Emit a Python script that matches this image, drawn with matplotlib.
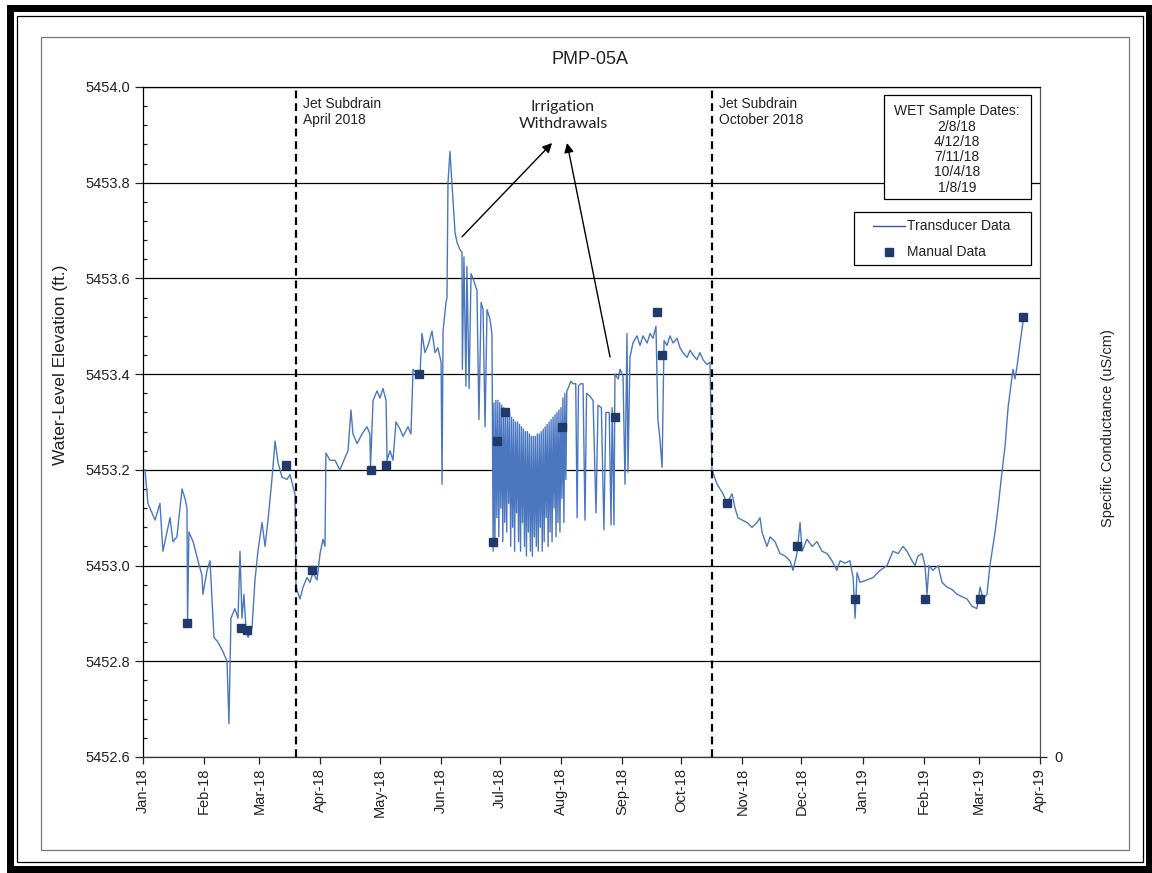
import matplotlib
matplotlib.use("Agg")
import matplotlib.pyplot as plt
import matplotlib.dates as mdates
from matplotlib.patches import Rectangle
from matplotlib.lines import Line2D
from matplotlib.ticker import MultipleLocator, FormatStrFormatter
import datetime as dt

plt.rcParams['font.family'] = ['Liberation Sans', 'DejaVu Sans']

BASE = dt.datetime(2018, 1, 1)

# ---------------- data (days since 1 Jan 2018, elevation ft) ----------------
trans_jan_jun = [
    (1.0, 5453.20), (2.5, 5453.13), (6.1, 5453.095), (8.6, 5453.13), (10.1, 5453.03),
    (13.7, 5453.10), (15.2, 5453.05), (17.2, 5453.06), (19.8, 5453.16), (21.3, 5453.14),
    (22.3, 5453.12), (22.6, 5452.88), (23.3, 5453.07), (25.4, 5453.05), (27.9, 5453.01),
    (29.9, 5452.98), (30.4, 5452.94), (32.5, 5452.99), (34.0, 5453.01), (35.0, 5452.93),
    (36.0, 5452.85), (38.0, 5452.84), (40.6, 5452.82), (42.6, 5452.80), (43.6, 5452.67),
    (44.6, 5452.89), (46.6, 5452.91), (48.2, 5452.89), (49.2, 5453.03), (50.2, 5452.89),
    (51.2, 5452.94), (52.2, 5452.87), (53.3, 5452.85), (55.3, 5452.87), (56.8, 5452.97),
    (58.3, 5453.03), (60.4, 5453.09), (61.9, 5453.04), (63.4, 5453.095), (65.4, 5453.18),
    (67.0, 5453.26), (68.5, 5453.215), (70.5, 5453.185), (73.0, 5453.18), (74.6, 5453.19),
    (76.1, 5453.165), (77.1, 5453.15), (77.6, 5452.955), (79.6, 5452.93), (81.2, 5452.955),
    (83.2, 5452.975), (84.7, 5452.965), (86.2, 5452.985), (88.3, 5452.97), (89.8, 5453.025),
    (91.3, 5453.055), (92.3, 5453.04), (92.8, 5453.235), (94.9, 5453.22), (97.4, 5453.22),
    (99.9, 5453.20), (102.4, 5453.225), (104.0, 5453.24), (105.5, 5453.325), (106.5, 5453.275),
    (108.6, 5453.255), (111.1, 5453.275), (113.6, 5453.29), (115.1, 5453.275), (115.4, 5453.205),
    (116.7, 5453.345), (118.7, 5453.365), (120.2, 5453.35), (121.7, 5453.37), (123.3, 5453.345),
    (123.8, 5453.22), (125.3, 5453.24), (126.8, 5453.22), (128.3, 5453.30), (130.4, 5453.285),
    (131.9, 5453.27), (134.4, 5453.29), (135.9, 5453.275), (137.0, 5453.41), (139.0, 5453.40),
    (140.5, 5453.40), (141.5, 5453.485), (143.0, 5453.445), (144.6, 5453.46), (146.6, 5453.49),
    (148.1, 5453.445), (149.6, 5453.455), (151.2, 5453.425), (151.7, 5453.17), (152.2, 5453.49),
    (153.7, 5453.55), (154.2, 5453.56), (154.7, 5453.80), (155.7, 5453.865), (156.7, 5453.80),
    (158.3, 5453.695), (159.3, 5453.675), (160.8, 5453.66), (161.8, 5453.655), (162.0, 5453.41),
    (162.8, 5453.645), (163.8, 5453.375), (164.3, 5453.625), (165.4, 5453.37), (166.4, 5453.61),
    (167.4, 5453.60), (169.4, 5453.575), (170.4, 5453.305), (171.5, 5453.55), (172.5, 5453.535),
    (173.5, 5453.29), (174.5, 5453.535), (176.0, 5453.515), (177.0, 5453.485), (177.6, 5453.03),
]

trans_irrigation = [
    (178.0, 5453.34), (178.5, 5453.04), (179.0, 5453.345), (179.5, 5453.10),
    (180.0, 5453.345), (180.5, 5453.06), (181.0, 5453.34), (181.5, 5453.12),
    (182.0, 5453.335), (182.5, 5453.05), (183.0, 5453.33), (183.5, 5453.09),
    (184.0, 5453.325), (184.5, 5453.07), (185.0, 5453.32), (185.5, 5453.13),
    (186.0, 5453.315), (186.5, 5453.04), (187.0, 5453.31), (187.5, 5453.08),
    (188.0, 5453.305), (188.5, 5453.03), (189.0, 5453.30), (189.5, 5453.11),
    (190.0, 5453.30), (190.5, 5453.05), (191.0, 5453.295), (191.5, 5453.03),
    (192.0, 5453.29), (192.5, 5453.09), (193.0, 5453.285), (193.5, 5453.04),
    (194.0, 5453.28), (194.5, 5453.02), (195.0, 5453.28), (195.5, 5453.07),
    (196.0, 5453.275), (196.5, 5453.03), (197.0, 5453.27), (197.5, 5453.02),
    (198.0, 5453.27), (198.5, 5453.06), (199.0, 5453.27), (199.5, 5453.04),
    (200.0, 5453.275), (200.5, 5453.03), (201.0, 5453.275), (201.5, 5453.08),
    (202.0, 5453.28), (202.5, 5453.03), (203.0, 5453.285), (203.5, 5453.05),
    (204.0, 5453.29), (204.5, 5453.10), (205.0, 5453.295), (205.5, 5453.04),
    (206.0, 5453.30), (206.5, 5453.07), (207.0, 5453.305), (207.5, 5453.05),
    (208.0, 5453.31), (208.5, 5453.12), (209.0, 5453.315), (209.5, 5453.06),
    (210.0, 5453.32), (210.5, 5453.09), (211.0, 5453.325), (211.5, 5453.07),
    (212.0, 5453.33), (212.5, 5453.14), (213.0, 5453.35), (213.5, 5453.09),
    (214.0, 5453.36), (214.5, 5453.18), (215.0, 5453.365), (215.6, 5453.37),
    (217.0, 5453.385), (218.1, 5453.38), (219.5, 5453.38), (220.2, 5453.10),
    (220.9, 5453.375), (222.0, 5453.38), (223.2, 5453.38), (224.2, 5453.095),
    (225.0, 5453.36), (226.5, 5453.355), (228.3, 5453.345), (229.8, 5453.11),
    (230.8, 5453.335), (232.5, 5453.33), (233.8, 5453.075), (234.8, 5453.32),
    (236.5, 5453.32), (237.4, 5453.085), (238.0, 5453.33), (238.9, 5453.085),
]

trans_sep_oct = [
    (239.4, 5453.40), (241.0, 5453.39), (242.0, 5453.41), (243.5, 5453.395), (244.5, 5453.17),
    (245.5, 5453.485), (246.0, 5453.195), (247.0, 5453.435), (248.5, 5453.465), (250.6, 5453.48),
    (252.1, 5453.46), (253.6, 5453.48), (255.7, 5453.465), (257.2, 5453.485), (258.7, 5453.475),
    (260.2, 5453.50), (261.2, 5453.305), (262.3, 5453.26), (263.3, 5453.205), (264.3, 5453.47),
    (265.8, 5453.46), (267.3, 5453.48), (268.9, 5453.465), (270.9, 5453.475), (272.4, 5453.455),
    (273.9, 5453.445), (276.0, 5453.435), (277.5, 5453.45), (279.0, 5453.44), (281.0, 5453.43),
    (282.5, 5453.445), (284.1, 5453.43), (286.1, 5453.42), (287.6, 5453.425), (288.6, 5453.20),
]

trans_oct_apr = [
    (291.2, 5453.17), (292.7, 5453.16), (294.2, 5453.15), (296.2, 5453.13), (298.8, 5453.15),
    (300.3, 5453.12), (301.8, 5453.10), (303.9, 5453.095), (306.4, 5453.09), (308.9, 5453.08),
    (311.5, 5453.09), (313.0, 5453.10), (314.0, 5453.07), (316.5, 5453.04), (318.1, 5453.06),
    (320.6, 5453.05), (323.1, 5453.025), (325.7, 5453.02), (328.2, 5453.01), (329.7, 5452.99),
    (331.7, 5453.025), (333.3, 5453.09), (334.3, 5453.03), (336.8, 5453.055), (339.4, 5453.04),
    (341.9, 5453.05), (344.4, 5453.03), (347.0, 5453.025), (349.5, 5453.01), (352.0, 5452.99),
    (353.6, 5453.01), (356.1, 5453.005), (358.6, 5453.01), (360.2, 5452.975), (361.2, 5452.89),
    (362.2, 5452.985), (363.7, 5452.965), (367.3, 5452.97), (370.3, 5452.975), (373.9, 5452.99),
    (377.4, 5453.00), (380.4, 5453.03), (383.0, 5453.025), (385.5, 5453.04), (387.5, 5453.03),
    (390.1, 5453.01), (391.6, 5453.00), (393.1, 5453.02), (395.2, 5453.025), (396.7, 5453.00),
    (397.7, 5452.94), (398.7, 5453.00), (400.7, 5452.99), (403.3, 5453.00), (405.3, 5452.965),
    (407.8, 5452.955), (410.4, 5452.95), (412.9, 5452.94), (415.4, 5452.935), (418.0, 5452.93),
    (420.5, 5452.915), (423.0, 5452.91), (424.6, 5452.955), (426.1, 5452.93), (428.1, 5452.94),
    (429.6, 5453.00), (432.2, 5453.07), (433.7, 5453.12), (435.7, 5453.195), (437.3, 5453.25),
    (438.8, 5453.33), (440.8, 5453.395), (441.3, 5453.41), (442.3, 5453.39), (443.3, 5453.415),
    (444.9, 5453.465), (446.4, 5453.51),
]

manual_days = [22.3, 49.7, 53.0, 72.5, 85.7, 115.7, 123.3, 140.0, 177.6, 179.6, 183.7,
               212.6, 239.5, 260.8, 263.3, 296.3, 331.8, 361.2, 396.8, 424.7, 446.5]
manual_elev = [5452.88, 5452.87, 5452.865, 5453.21, 5452.99, 5453.20, 5453.21, 5453.40,
               5453.05, 5453.26, 5453.32, 5453.29, 5453.31, 5453.53, 5453.44, 5453.13,
               5453.04, 5452.93, 5452.93, 5452.93, 5453.52]

subdrain_days = [77.5, 288.5]
subdrain_labels = ['Jet Subdrain\nApril 2018', 'Jet Subdrain\nOctober 2018']
wet_dates = ['2/8/18', '4/12/18', '7/11/18', '10/4/18', '1/8/19']

# ---------------- figure ----------------
W, H = 1152, 873
fig = plt.figure(figsize=(W / 100, H / 100), dpi=100)
fig.patch.set_facecolor('white')


def fx(x):
    return x / W


def fy(y):
    return 1 - y / H


def frect(x0, y0, x1, y1, **kw):
    r = Rectangle((fx(x0), fy(y1)), (x1 - x0) / W, (y1 - y0) / H,
                  transform=fig.transFigure, **kw)
    fig.patches.append(r)
    return r


# outer page frame (behind everything)
frect(7, 5, 1152, 873, facecolor='black', edgecolor='none', zorder=-10)
frect(14, 12, 1146, 866, facecolor='white', edgecolor='none', zorder=-9)
frect(16.5, 15.5, 1142.5, 861.5, facecolor='none', edgecolor='black', lw=0.9, zorder=-8)
# chart area border
frect(41, 37, 1129, 850, facecolor='none', edgecolor='#7a7a7a', lw=0.9, zorder=-8)

ax = fig.add_axes([fx(143), fy(757), (1040 - 143) / W, (757 - 87) / H])
ax.set_facecolor('none')


def to_dates(days):
    return [BASE + dt.timedelta(days=d) for d in days]


trans = trans_jan_jun + trans_irrigation + trans_sep_oct + trans_oct_apr
t_days = [p[0] for p in trans]
t_elev = [p[1] for p in trans]

line_color = '#4a77c0'
marker_color = '#1f3a6b'

ax.plot(to_dates(t_days), t_elev, color=line_color, lw=1.0, zorder=3)
ax.plot(to_dates(manual_days), manual_elev, linestyle='none', marker='s',
        markersize=5.8, color=marker_color, zorder=4)

ax.set_xlim(BASE, dt.datetime(2019, 4, 1))
ax.set_ylim(5452.6, 5454.0)

ax.xaxis.set_major_locator(mdates.MonthLocator())
ax.xaxis.set_major_formatter(mdates.DateFormatter('%b-%y'))
ax.yaxis.set_major_locator(MultipleLocator(0.2))
ax.yaxis.set_minor_locator(MultipleLocator(0.04))
ax.yaxis.set_major_formatter(FormatStrFormatter('%.1f'))

ax.tick_params(axis='x', which='major', direction='out', length=5, width=0.9,
               labelsize=10.5, labelrotation=90, colors='#222222', pad=3)
ax.tick_params(axis='y', which='major', direction='out', length=6, width=0.9,
               labelsize=10.5, colors='#222222', pad=3)
ax.tick_params(axis='y', which='minor', direction='in', length=3, width=0.9,
               colors='#222222')
for lab in ax.get_xticklabels():
    lab.set_verticalalignment('top')

ax.yaxis.grid(True, which='major', color='black', lw=0.9, zorder=1)
ax.set_axisbelow(True)
for side in ['left', 'top']:
    ax.spines[side].set_color('black')
    ax.spines[side].set_linewidth(0.9)
ax.spines['bottom'].set_color('#333333')
ax.spines['bottom'].set_linewidth(0.9)
ax.spines['right'].set_color('#555555')
ax.spines['right'].set_linewidth(0.9)

ax.set_ylabel('Water-Level Elevation (ft.)', fontsize=12.5, color='#222222')
ax.yaxis.set_label_coords((68 - 143) / 897, (757 - 365) / 670)

# secondary axis (specific conductance)
ax2 = ax.twinx()
ax2.set_ylim(0, 1)
ax2.set_yticks([0])
ax2.set_yticklabels(['0'])
ax2.tick_params(axis='y', direction='out', length=5, width=0.9, labelsize=10.5,
                colors='#222222', pad=5)
ax2.set_ylabel('Specific Conductance (uS/cm)', fontsize=10.5, color='#222222')
ax2.yaxis.set_label_coords((1101 - 143) / 897, (757 - 428) / 670)
for s in ax2.spines.values():
    s.set_visible(False)

# subdrain lines
for d, lab in zip(subdrain_days, subdrain_labels):
    xd = BASE + dt.timedelta(days=d)
    ax.axvline(xd, color='black', lw=1.6, dashes=(3.5, 2.2), zorder=5)
    ax.text(BASE + dt.timedelta(days=d + 3.6), 0.985, lab,
            transform=ax.get_xaxis_transform(), ha='left', va='top',
            fontsize=10, color='#222222', linespacing=1.15, zorder=6)

# irrigation annotation
txt_xy = (BASE + dt.timedelta(days=213.0), 5453.94)
ax.text(*txt_xy, 'Irrigation\nWithdrawals', ha='center', va='center',
        fontsize=11.5, family=['Lato', 'DejaVu Sans'], color='#222222',
        linespacing=1.25, zorder=6)
arrow_kw = dict(arrowstyle='-|>', color='black', lw=1.0, mutation_scale=14,
                shrinkA=0, shrinkB=0)
ax.annotate('', xy=(BASE + dt.timedelta(days=207.5), 5453.883),
            xytext=(BASE + dt.timedelta(days=161.8), 5453.687),
            arrowprops=arrow_kw, zorder=6)
ax.annotate('', xy=(BASE + dt.timedelta(days=215.1), 5453.883),
            xytext=(BASE + dt.timedelta(days=236.9), 5453.436),
            arrowprops=arrow_kw, zorder=6)

# title
fig.text(fx(590), fy(59), 'PMP-05A', ha='center', va='center', fontsize=13,
         color='#222222')

# WET sample dates box
frect(883.5, 95.5, 1030.5, 198.5, facecolor='white', edgecolor='black', lw=0.9, zorder=6)
fig.text(fx(957), fy(149.5), 'WET Sample Dates:\n' + '\n'.join(wet_dates),
         ha='center', va='center', fontsize=10, color='#222222',
         linespacing=1.12, zorder=7)

# legend box
frect(853.5, 211.5, 1030.5, 264.5, facecolor='white', edgecolor='black', lw=0.9, zorder=6)
fig.add_artist(Line2D([fx(873), fx(905)], [fy(226), fy(226)], transform=fig.transFigure,
                      color='#3f4fa8', lw=1.0, zorder=7))
fig.add_artist(Line2D([fx(889)], [fy(252)], transform=fig.transFigure, marker='s',
                      markersize=5.8, color=marker_color, linestyle='none', zorder=7))
fig.text(fx(907), fy(226), 'Transducer Data', ha='left', va='center', fontsize=10,
         color='#222222', zorder=7)
fig.text(fx(907), fy(252), 'Manual Data', ha='left', va='center', fontsize=10,
         color='#222222', zorder=7)

fig.savefig('out.png', dpi=100)
